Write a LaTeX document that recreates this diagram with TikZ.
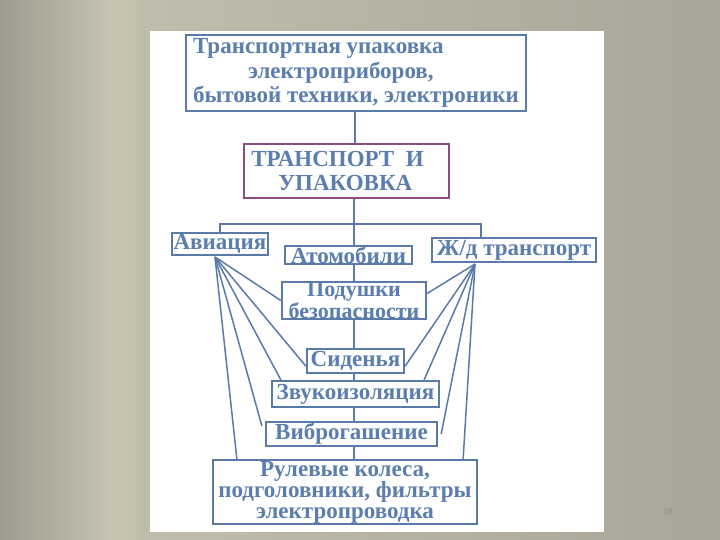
\documentclass[tikz,border=0pt]{standalone}
\usepackage{fontspec}
\setmainfont{Liberation Serif}
\usetikzlibrary{calc}
\definecolor{bl}{HTML}{5A7BA8}
\definecolor{txt}{HTML}{5B7EAE}
\definecolor{pur}{HTML}{8C4C84}
\definecolor{num}{HTML}{8F8D82}
\pgfdeclarehorizontalshading{bgsh}{100bp}{rgb(0bp)=(0.61,0.61,0.56); rgb(25bp)=(0.61,0.61,0.56); rgb(33bp)=(0.79,0.77,0.70); rgb(35bp)=(0.75,0.74,0.67); rgb(75bp)=(0.66,0.65,0.60); rgb(100bp)=(0.66,0.65,0.60)}
\begin{document}
\begin{tikzpicture}[x=1pt,y=-1pt,
  box/.style={draw=bl, line width=2.3pt, fill=white, text=txt, font=\bfseries\fontsize{23}{21}\selectfont, inner sep=0pt},
  conn/.style={draw=bl, line width=1.8pt},
  fan/.style={draw=bl, line width=1.5pt}]
\shade[shading=bgsh] (0,0) rectangle (720,540);
\fill[white] (150,31) rectangle (604,532);
\useasboundingbox (0,0) rectangle (720,540);

\node[box, minimum width=340pt, minimum height=76pt, align=left, font=\bfseries\fontsize{23}{24.5}\selectfont] (top) at (356,73)
  {Транспортная упаковка\\\hspace*{55pt}электроприборов,\\бытовой техники, электроники};
\node[box, draw=pur, minimum width=205pt, minimum height=54pt, align=left, font=\bfseries\fontsize{23}{24}\selectfont] (tr) at (346.5,171)
  {ТРАНСПОРТ\ \ И\hspace*{18pt}\\\hspace*{27pt}УПАКОВКА};
\node[box, minimum width=96pt, minimum height=22pt] (avia) at (220,244) {Авиация};
\node[box, minimum width=127pt, minimum height=18pt, font=\bfseries\fontsize{23}{21}\selectfont] (avto) at (348.5,255) {Атомобили};
\node[box, minimum width=164pt, minimum height=24pt] (zhd) at (514,250) {Ж/д транспорт};
\node[box, minimum width=144pt, minimum height=37pt, align=center, font=\bfseries\fontsize{22}{18}\selectfont] (pod) at (354,300.5) {Подушки\\безопасности};
\node[box, minimum width=97pt, minimum height=24pt] (sid) at (355.5,361) {Сиденья};
\node[box, minimum width=167pt, minimum height=26pt] (zvuk) at (355.5,394) {Звукоизоляция};
\node[box, minimum width=171pt, minimum height=24pt] (vib) at (351.5,434) {Виброгашение};
\node[box, minimum width=264pt, minimum height=64pt, align=center, font=\bfseries\fontsize{23}{21}\selectfont] (rul) at (345,492) {Рулевые колеса,\\подголовники, фильтры\\электропроводка};
\node[text=num, font=\fontsize{9}{9}\selectfont] (pg) at (668,512) {18};

\coordinate (tx) at (355,0);
\coordinate (tk) at (354,0);
\coordinate (bL) at (220,224);
\coordinate (bR) at (481,224);
\coordinate (aF) at (215,257);
\coordinate (zF) at (475,264);

\draw[conn] (top.south -| tx) -- (tr.north -| tx);
\draw[conn] (tr.south -| tk) -- (avto.north -| tk);
\draw[conn] (avia.north) -- (bL) -- (bR) -- (bR |- zhd.north);
\draw[conn] (avto.south -| tk) -- (pod.north -| tk);
\draw[conn] (pod.south -| tk) -- (sid.north -| tk);
\draw[conn] (sid.south -| tk) -- (zvuk.north -| tk);
\draw[conn] (zvuk.south -| tk) -- (vib.north -| tk);
\draw[conn] (vib.south -| tk) -- (rul.north -| tk);

\draw[fan] (aF) -- (pod.west);
\draw[fan] (aF) -- ($(sid.south west)+(0,-8)$);
\draw[fan] (aF) -- ($(zvuk.north west)+(10,0)$);
\draw[fan] (aF) -- ($(vib.north west)+(-3,5)$);
\draw[fan] (aF) -- ($(rul.north west)+(25,0)$);

\draw[fan] (zF) -- ($(pod.east)+(0,-7)$);
\draw[fan] (zF) -- ($(sid.south east)+(0,-8)$);
\draw[fan] (zF) -- ($(zvuk.north east)+(-16,0)$);
\draw[fan] (zF) -- ($(vib.east)+(3,0)$);
\draw[fan] (zF) -- ($(rul.north east)+(-15,0)$);
\end{tikzpicture}
\end{document}
